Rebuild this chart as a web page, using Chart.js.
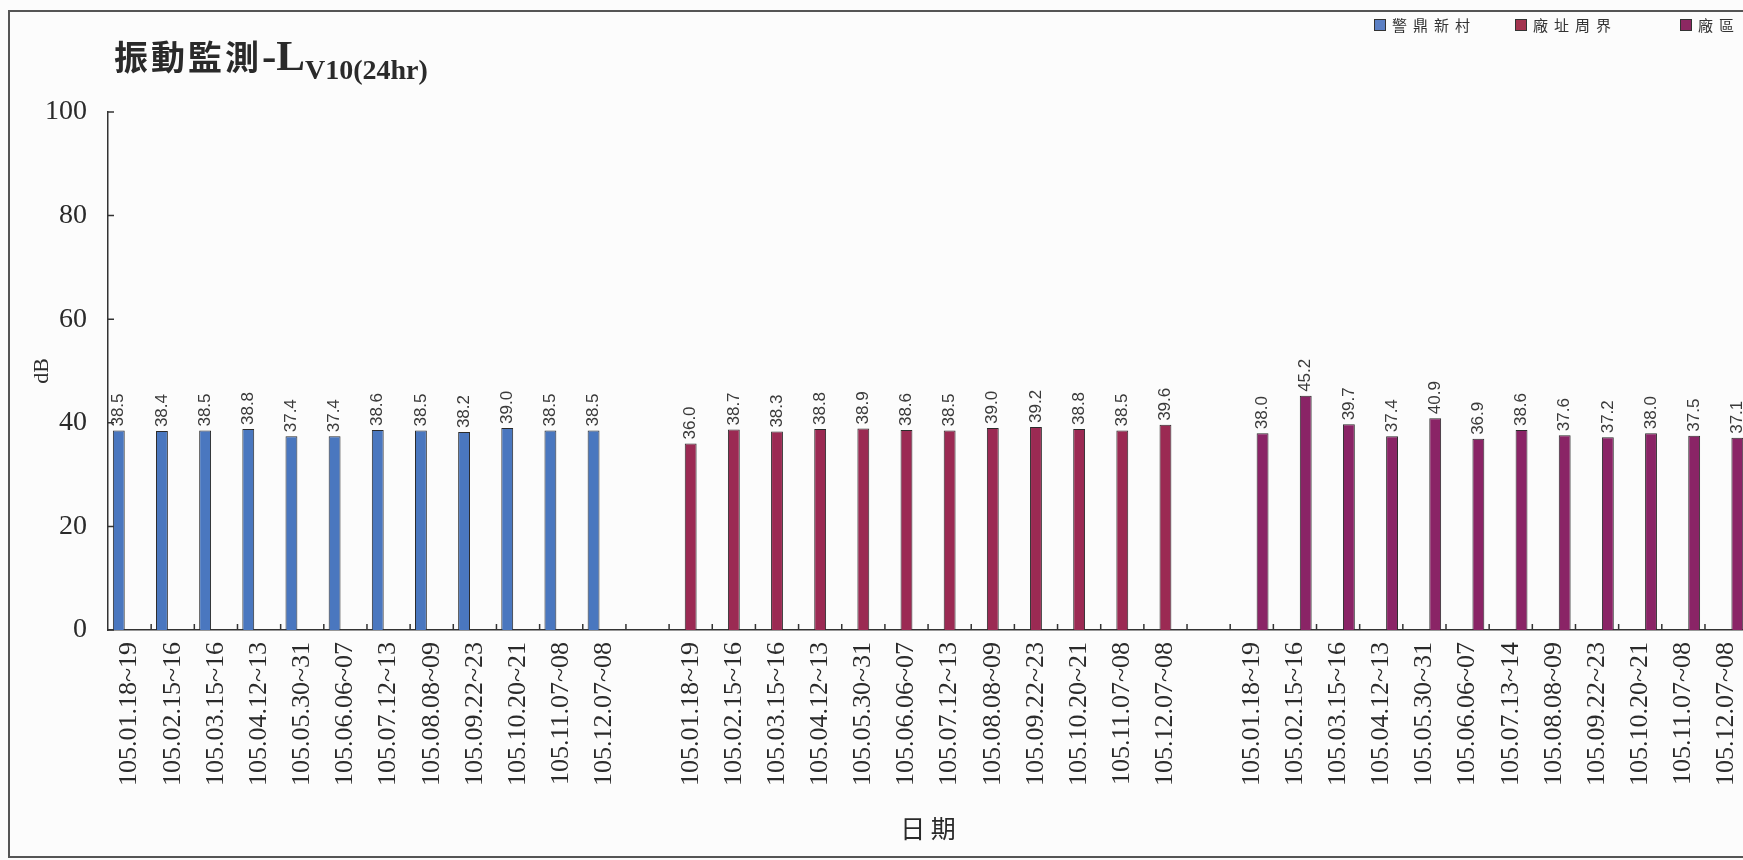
<!DOCTYPE html>
<html>
<head>
<meta charset="utf-8">
<script src="https://cdn.jsdelivr.net/npm/chart.js@4.4.1/dist/chart.umd.min.js"></script>
<style>
    html, body { margin: 0; padding: 0; background: #fcfcfc; }
    body { width: 1743px; height: 860px; overflow: hidden; position: relative; }
    #frame {
        position: absolute; left: 8px; top: 10px; width: 1760px; height: 844px;
        border: 2px solid #555; border-right: none;
    }
    #chartWrap { position: absolute; left: 0; top: 0; width: 1770px; height: 860px; }
    #title {
        position: absolute; left: 114px; top: 34px; line-height: 1; color: #2a2a2a; white-space: nowrap;
        font-family: 'Noto Sans CJK TC'; font-weight: 700; font-size: 34px; letter-spacing: 3px;
    }
    #title .l { font-family: 'Liberation Serif'; font-size: 43px; letter-spacing: 0; }
    #title .sub { font-family: 'Liberation Serif'; font-size: 28px; letter-spacing: 0; position: relative; top: 9px; }
    .legend-item { position: absolute; top: 14px; display: flex; align-items: center; }
    .legend-box { width: 10px; height: 10px; border: 1px solid #333; margin-right: 6px; }
    .legend-text { font-family: 'Noto Sans CJK TC'; font-size: 15px; letter-spacing: 6px; color: #333; }
</style>
</head>
<body>
<div id="frame"></div>
<div id="chartWrap"><canvas id="vibChart"></canvas></div>
<div id="title">振動監測<span class="l">-L</span><span class="sub">V10(24hr)</span></div>
<div id="legend"></div>
<script>
const seriesNames = ['警鼎新村', '廠址周界', '廠區'];
const seriesColors = ['#4a77bf', '#9b2a53', '#8a2466'];
const legendColors = ['#5c80c4', '#a3344f', '#8c2862'];

const datesA = ['105.01.18~19', '105.02.15~16', '105.03.15~16', '105.04.12~13', '105.05.30~31', '105.06.06~07',
    '105.07.12~13', '105.08.08~09', '105.09.22~23', '105.10.20~21', '105.11.07~08', '105.12.07~08'];
const datesB = ['105.01.18~19', '105.02.15~16', '105.03.15~16', '105.04.12~13', '105.05.30~31', '105.06.06~07',
    '105.07.12~13', '105.08.08~09', '105.09.22~23', '105.10.20~21', '105.11.07~08', '105.12.07~08'];
const datesC = ['105.01.18~19', '105.02.15~16', '105.03.15~16', '105.04.12~13', '105.05.30~31', '105.06.06~07',
    '105.07.13~14', '105.08.08~09', '105.09.22~23', '105.10.20~21', '105.11.07~08', '105.12.07~08'];

const valuesA = [38.5, 38.4, 38.5, 38.8, 37.4, 37.4, 38.6, 38.5, 38.2, 39.0, 38.5, 38.5];
const valuesB = [36.0, 38.7, 38.3, 38.8, 38.9, 38.6, 38.5, 39.0, 39.2, 38.8, 38.5, 39.6];
const valuesC = [38.0, 45.2, 39.7, 37.4, 40.9, 36.9, 38.6, 37.6, 37.2, 38.0, 37.5, 37.1];

const yTicks = [0, 20, 40, 60, 80, 100];

// one empty category between the three site groups
const labels = [...datesA, '', ...datesB, '', ...datesC];
const blank = n => Array(n).fill(null);
const dataA = [...valuesA, null, ...blank(12), null, ...blank(12)];
const dataB = [...blank(12), null, ...valuesB, null, ...blank(12)];
const dataC = [...blank(12), null, ...blank(12), null, ...valuesC];

function renderLegend() {
    const pos = [1374, 1515, 1680];
    const el = document.getElementById('legend');
    seriesNames.forEach((name, i) => {
        const item = document.createElement('div');
        item.className = 'legend-item';
        item.style.left = pos[i] + 'px';
        item.innerHTML = `<span class="legend-box" style="background:${legendColors[i]}"></span><span class="legend-text">${name}</span>`;
        el.appendChild(item);
    });
}

// value labels, rotated, above each bar
const valueLabels = {
    id: 'valueLabels',
    afterDatasetsDraw(chart) {
        const ctx = chart.ctx;
        ctx.save();
        ctx.font = '17px "Liberation Sans"';
        ctx.fillStyle = '#3a3a3a';
        ctx.textAlign = 'left';
        ctx.textBaseline = 'middle';
        chart.data.datasets.forEach((ds, di) => {
            chart.getDatasetMeta(di).data.forEach((bar, i) => {
                const v = ds.data[i];
                if (v == null) return;
                ctx.save();
                ctx.translate(bar.x, bar.y - 4);
                ctx.rotate(-Math.PI / 2);
                ctx.fillText(v.toFixed(1), 0, 0);
                ctx.restore();
            });
        });
        ctx.restore();
    }
};

// short tick marks pointing into the plot
const innerTicks = {
    id: 'innerTicks',
    afterDraw(chart) {
        const { ctx, chartArea, scales } = chart;
        ctx.save();
        ctx.strokeStyle = '#333';
        ctx.lineWidth = 1.5;
        ctx.beginPath();
        yTicks.forEach(t => {
            const y = scales.y.getPixelForValue(t);
            ctx.moveTo(chartArea.left, y);
            ctx.lineTo(chartArea.left + 6, y);
        });
        const n = labels.length;
        const step = (chartArea.right - chartArea.left) / n;
        for (let i = 1; i <= n; i++) {
            const x = chartArea.left + i * step;
            ctx.moveTo(x, chartArea.bottom);
            ctx.lineTo(x, chartArea.bottom - 6);
        }
        ctx.stroke();
        ctx.restore();
    }
};

const makeDataset = (label, data, color) => ({
    label,
    data,
    backgroundColor: color,
    borderColor: '#2b2b2b',
    borderWidth: 1,
    categoryPercentage: 0.75,
    barPercentage: 1.1
});

renderLegend();

new Chart(document.getElementById('vibChart'), {
    type: 'bar',
    data: {
        labels: labels,
        datasets: [
            makeDataset(seriesNames[0], dataA, seriesColors[0]),
            makeDataset(seriesNames[1], dataB, seriesColors[1]),
            makeDataset(seriesNames[2], dataC, seriesColors[2])
        ]
    },
    options: {
        responsive: true,
        maintainAspectRatio: false,
        animation: false,
        events: [],
        layout: { padding: { top: 112, right: 19, bottom: 0, left: 0 } },
        plugins: {
            legend: { display: false },
            tooltip: { enabled: false }
        },
        scales: {
            x: {
                offset: true,
                grid: { display: false, drawTicks: false },
                border: { display: true, color: '#333', width: 1.5 },
                ticks: {
                    autoSkip: false, minRotation: 90, maxRotation: 90, padding: 12,
                    color: '#2a2a2a', font: { family: 'Liberation Serif', size: 26 }
                },
                title: {
                    display: true, text: '日 期', color: '#2a2a2a',
                    font: { family: 'Noto Sans CJK TC', size: 25 },
                    padding: { top: 0, bottom: 17 }
                },
                afterFit: scale => { scale.height = 230; }
            },
            y: {
                min: 0, max: 100,
                afterBuildTicks: scale => { scale.ticks = yTicks.map(v => ({ value: v })); },
                grid: { display: false, drawTicks: false },
                border: { display: true, color: '#333', width: 1.5 },
                ticks: {
                    padding: 21, color: '#2a2a2a',
                    font: { family: 'Liberation Serif', size: 28 }
                },
                title: {
                    display: true, text: 'dB', color: '#2a2a2a',
                    font: { family: 'Liberation Serif', size: 22 },
                    padding: { top: 29, bottom: 0 }
                },
                afterFit: scale => { scale.width = 108; }
            }
        }
    },
    plugins: [valueLabels, innerTicks]
});
</script>
</body>
</html>
